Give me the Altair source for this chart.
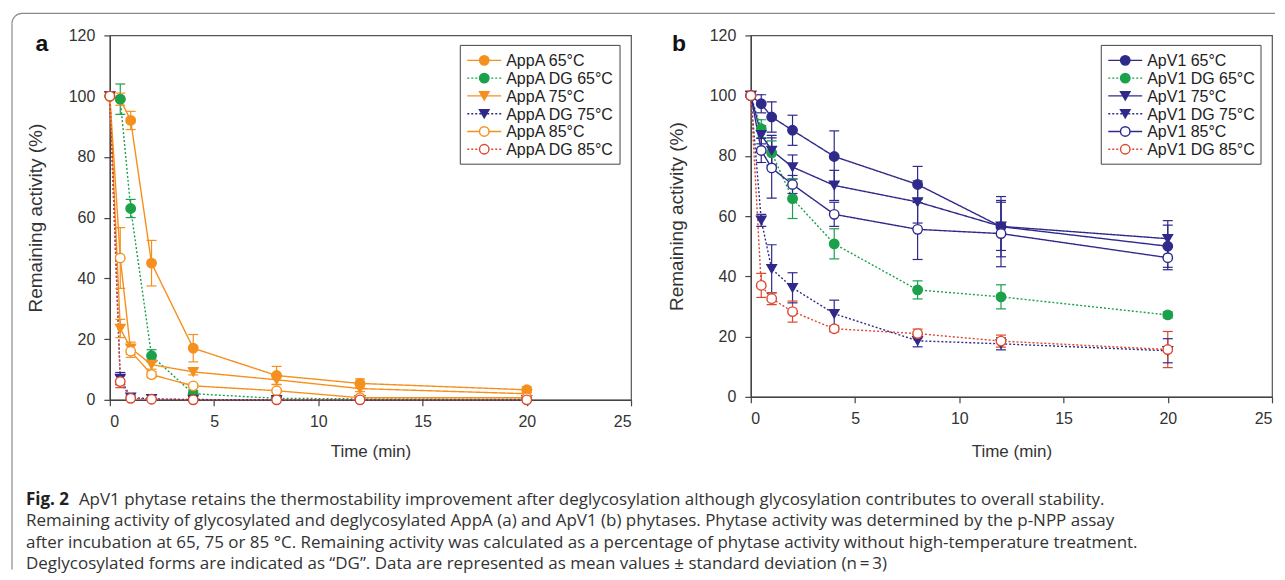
import altair as alt
import pandas as pd

# ---------------- data ----------------
TIME = [0, 0.5, 1, 2, 4, 8, 12, 20]

A_NAMES = ["AppA 65°C", "AppA DG 65°C", "AppA 75°C", "AppA DG 75°C", "AppA 85°C", "AppA DG 85°C"]
A_65 = [100, 99, 92, 45, 17, 8, 5.4, 3.3]
A_65_SD = [0, 2, 3, 7.5, 4.5, 3, 1.5, 1]
A_DG65 = [100, 99, 63, 14.5, 2, 0.5, 0.3, 0.2]
A_DG65_SD = [0, 5, 3, 2, 1, 0.5, 0.3, 0.3]
A_75 = [100, 23.5, 17, 11.6, 9.2, 6.6, 3.7, 2]
A_75_SD = [0, 3, 2, 1.5, 1, 1.5, 1, 0.5]
A_DG75 = [100, 7, 0.8, 0.3, 0.1, 0, 0, 0]
A_DG75_SD = [0, 2, 0.5, 0.3, 0.2, 0.2, 0.2, 0.2]
A_85 = [100, 46.7, 16, 8.3, 4.6, 3, 0.7, 0.7]
A_85_SD = [0, 10, 2, 1, 0.5, 0.5, 0.3, 0.3]
A_DG85 = [100, 6, 0.5, 0.2, 0, 0, 0, 0]
A_DG85_SD = [0, 2, 0.3, 0.2, 0.2, 0.2, 0.2, 0.2]

B_NAMES = ["ApV1 65°C", "ApV1 DG 65°C", "ApV1 75°C", "ApV1 DG 75°C", "ApV1 85°C", "ApV1 DG 85°C"]
B_65 = [100, 97.3, 92.9, 88.5, 79.8, 70.5, 56.5, 50]
B_65_SD = [0, 3, 5, 5, 8.5, 6, 10, 7]
B_DG65 = [100, 89, 81, 65.8, 50.8, 35.5, 33.2, 27.2]
B_DG65_SD = [0, 3, 4, 6.6, 5, 3, 4, 1]
B_75 = [100, 87, 81.8, 76.3, 70.2, 64.7, 56.6, 52.5]
B_75_SD = [0, 3, 5, 4, 5, 7, 8, 6]
B_DG75 = [100, 58.6, 42.5, 36.2, 27.6, 18.6, 17.6, 15.3]
B_DG75_SD = [0, 2, 8, 5, 4.5, 2, 2, 4]
B_85 = [100, 81.8, 76, 70.5, 60.6, 55.6, 54.2, 46.2]
B_85_SD = [0, 4, 10, 3, 4, 10, 11, 4]
B_DG85 = [100, 37, 32.6, 28.3, 22.6, 21, 18.5, 15.7]
B_DG85_SD = [0, 4, 2, 3.5, 1, 1.5, 2, 6]

X_TICKS = [0, 5, 10, 15, 20, 25]
Y_TICKS = [0, 20, 40, 60, 80, 100, 120]

CAPTION_BOLD = "Fig. 2"
CAPTION_1 = ("ApV1 phytase retains the thermostability improvement after deglycosylation "
             "although glycosylation contributes to overall stability.")
CAPTION_2 = ("Remaining activity of glycosylated and deglycosylated AppA (a) and ApV1 (b) phytases. "
             "Phytase activity was determined by the p-NPP assay")
CAPTION_3 = ("after incubation at 65, 75 or 85 °C. Remaining activity was calculated as a percentage "
             "of phytase activity without high-temperature treatment.")
CAPTION_4 = ("Deglycosylated forms are indicated as \u201cDG\u201d. Data are represented as mean "
             "values \u00b1 standard deviation (n\u2009=\u20093)")

# ---------------- styles ----------------
ORANGE = "#F5901E"
GREEN = "#1BA14B"
NAVY = "#2F2A8A"
RED = "#DE472E"
A_COLORS = [ORANGE, GREEN, ORANGE, NAVY, ORANGE, RED]
B_COLORS = [NAVY, GREEN, NAVY, NAVY, NAVY, RED]
SHAPES = ["circle", "circle", "triangle-down", "triangle-down", "circle", "circle"]
DASHES = [[1, 0], [2, 2], [1, 0], [2, 2], [1, 0], [2, 2]]
FONT = "Liberation Sans"
CAP_FONT = "Open Sans"
CAP_SIZE = 17
TXT = "#333333"
MSIZE = 90


def make_df(names, means, sds):
    rows = []
    for name, m, s in zip(names, means, sds):
        for t, v, e in zip(TIME, m, s):
            rows.append({"series": name, "time": t, "value": v,
                         "lo": v - e, "hi": v + e, "sd": e})
    return pd.DataFrame(rows)


def one():
    return alt.Chart(pd.DataFrame({"k": [0]}))


def panel(df, names, colors, height, letter, letter_x, title_y, extra=None):
    fills = [c if i in (0, 1, 2, 3) else "white" for i, c in enumerate(colors)]
    xscale = alt.Scale(domain=[0, 25], nice=False)
    yscale = alt.Scale(domain=[0, 120], nice=False)
    xaxis = alt.Axis(values=X_TICKS, title="Time (min)", titleX=261, titleY=title_y,
                     titleBaseline="middle", labelPadding=8, labelFontSize=16,
                     titleFontSize=17)
    yaxis = alt.Axis(values=Y_TICKS, title="Remaining activity (%)", titleX=-74,
                     titleY=height / 2, titleAngle=-90, titleAlign="center",
                     titleBaseline="middle", labelPadding=9, labelFontSize=16,
                     titleFontSize=19)

    def X(f="time:Q"):
        return alt.X(f, scale=xscale, axis=xaxis, title="Time (min)")

    def Y(f="value:Q"):
        return alt.Y(f, scale=yscale, axis=yaxis, title="Remaining activity (%)")

    stroke = alt.Stroke("series:N", scale=alt.Scale(domain=names, range=colors), legend=None)
    color = alt.Color("series:N", scale=alt.Scale(domain=names, range=colors), legend=None)
    dash = alt.StrokeDash("series:N", scale=alt.Scale(domain=names, range=DASHES), legend=None)
    shape = alt.Shape("series:N", scale=alt.Scale(domain=names, range=SHAPES), legend=None)
    fill = alt.Fill("series:N", scale=alt.Scale(domain=names, range=fills), legend=None)

    err_df = df[df["sd"] > 0]
    lines = alt.Chart(df).mark_line(strokeWidth=1.4).encode(
        x=X(), y=Y(), stroke=stroke, strokeDash=dash, order="time:Q")
    bars = alt.Chart(err_df).mark_rule(strokeWidth=1.2).encode(
        x=X(), y=Y("lo:Q"), y2="hi:Q", color=color)
    cap_lo = alt.Chart(err_df).mark_tick(orient="horizontal", size=10, thickness=1.2, opacity=1).encode(
        x=X(), y=Y("lo:Q"), color=color)
    cap_hi = alt.Chart(err_df).mark_tick(orient="horizontal", size=10, thickness=1.2, opacity=1).encode(
        x=X(), y=Y("hi:Q"), color=color)
    points = alt.Chart(df).mark_point(size=MSIZE, strokeWidth=1.4, opacity=1, filled=False).encode(
        x=X(), y=Y(), shape=shape, stroke=stroke, fill=fill)

    layers = []
    if extra:
        layers += extra
    layers += [lines, bars, cap_lo, cap_hi, points]

    # legend box
    layers.append(one().mark_rect(fill="white", stroke="#444444", strokeWidth=1).encode(
        x=alt.value(351), x2=alt.value(511), y=alt.value(10), y2=alt.value(129)))
    row_y = [25, 42.8, 60.6, 78.4, 96.2, 114]
    for i, name in enumerate(names):
        ry = row_y[i]
        layers.append(one().mark_rule(strokeWidth=1.4, strokeDash=DASHES[i], color=colors[i]).encode(
            x=alt.value(358), x2=alt.value(392), y=alt.value(ry)))
        layers.append(one().mark_point(shape=SHAPES[i], size=MSIZE, filled=False, fill=fills[i],
                                       stroke=colors[i], strokeWidth=1.4, opacity=1).encode(
            x=alt.value(375), y=alt.value(ry)))
        layers.append(one().mark_text(align="left", baseline="middle", font=FONT, fontSize=16,
                                      color="#222222").encode(
            x=alt.value(397), y=alt.value(ry + 1), text=alt.value(name)))

    layers.append(one().mark_text(align="center", baseline="middle", font=FONT, fontSize=23,
                                  fontWeight="bold", color="#111111").encode(
        x=alt.value(letter_x), y=alt.value(9), text=alt.value(letter)))

    return alt.layer(*layers).properties(width=522, height=height)


# decorations that belong to the whole figure, placed in panel a's frame
BORDER = "#8a8a8a"
deco = [
    one().mark_rule(color=BORDER, strokeWidth=1.2).encode(
        x=alt.value(-98), y=alt.value(-12), y2=alt.value(535)),
    one().mark_rule(color=BORDER, strokeWidth=1.2).encode(
        x=alt.value(-88), x2=alt.value(1167), y=alt.value(-22)),
    one().mark_arc(theta=4.7124, theta2=6.2832, innerRadius=9.4, outerRadius=10.6, color=BORDER).encode(
        x=alt.value(-88), y=alt.value(-12)),
    one().mark_text(align="left", baseline="middle", font=CAP_FONT, fontSize=CAP_SIZE,
                    fontWeight="bold", color="#222222").encode(
        x=alt.value(-84), y=alt.value(465), text=alt.value(CAPTION_BOLD)),
    one().mark_text(align="left", baseline="middle", font=CAP_FONT, fontSize=CAP_SIZE, color=TXT).encode(
        x=alt.value(-31), y=alt.value(465), text=alt.value(CAPTION_1)),
    one().mark_text(align="left", baseline="middle", font=CAP_FONT, fontSize=CAP_SIZE, color=TXT).encode(
        x=alt.value(-84), y=alt.value(486.5), text=alt.value(CAPTION_2)),
    one().mark_text(align="left", baseline="middle", font=CAP_FONT, fontSize=CAP_SIZE, color=TXT).encode(
        x=alt.value(-84), y=alt.value(508), text=alt.value(CAPTION_3)),
    one().mark_text(align="left", baseline="middle", font=CAP_FONT, fontSize=CAP_SIZE, color=TXT).encode(
        x=alt.value(-84), y=alt.value(529.5), text=alt.value(CAPTION_4)),
]

df_a = make_df(A_NAMES, [A_65, A_DG65, A_75, A_DG75, A_85, A_DG85],
               [A_65_SD, A_DG65_SD, A_75_SD, A_DG75_SD, A_85_SD, A_DG85_SD])
df_b = make_df(B_NAMES, [B_65, B_DG65, B_75, B_DG75, B_85, B_DG85],
               [B_65_SD, B_DG65_SD, B_75_SD, B_DG75_SD, B_85_SD, B_DG85_SD])

panel_a = panel(df_a, A_NAMES, A_COLORS, 365, "a", -68, 52, extra=deco)
panel_b = panel(df_b, B_NAMES, B_COLORS, 362, "b", -72, 55)

chart = alt.hconcat(panel_a, panel_b, spacing=120, bounds="flush").resolve_scale(
    color="independent", stroke="independent", fill="independent",
    shape="independent", strokeDash="independent"
).properties(
    padding={"left": 2, "top": 3, "right": 0, "bottom": 0}
).configure_view(
    stroke="#555555", strokeWidth=1.2
).configure_axis(
    grid=False, domainColor="#444444", domainWidth=1.3, tickColor="#444444", tickWidth=1.2,
    tickSize=6, labelFont=FONT, labelFontSize=16, labelColor=TXT,
    titleFont=FONT, titleFontSize=17, titleFontWeight="normal", titleColor=TXT
)

chart.save("out.html", embed_options={"renderer": "svg", "actions": False})
